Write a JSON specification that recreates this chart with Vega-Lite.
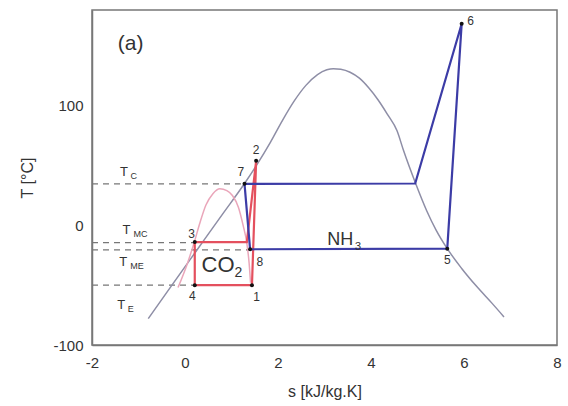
{
  "$schema": "https://vega.github.io/schema/vega-lite/v6.json",
  "width": 465,
  "height": 335,
  "autosize": {"type": "none"},
  "padding": {"left": 92, "top": 10, "right": 11, "bottom": 61},
  "background": "white",
  "config": {
    "view": {"stroke": "#777", "strokeWidth": 1.5},
    "font": "Liberation Sans",
    "axis": {"grid": false, "labelFont": "Liberation Sans", "titleFont": "Liberation Sans", "labelColor": "#333", "titleColor": "#333", "domainColor": "#777", "domainWidth": 1.5, "labelFlush": false, "labelOverlap": false}
  },
  "datasets": {
    "nh3dome": [
      {"s": -0.79, "T": -78}, {"s": -0.3, "T": -51}, {"s": 0.25, "T": -21}, {"s": 0.8, "T": 9},
      {"s": 1.28, "T": 35}, {"s": 1.55, "T": 51}, {"s": 1.83, "T": 69}, {"s": 2.1, "T": 88},
      {"s": 2.35, "T": 104}, {"s": 2.6, "T": 117}, {"s": 2.85, "T": 126}, {"s": 3.05, "T": 130},
      {"s": 3.19, "T": 131}, {"s": 3.35, "T": 130.5}, {"s": 3.55, "T": 128}, {"s": 3.75, "T": 123},
      {"s": 3.95, "T": 115}, {"s": 4.15, "T": 105}, {"s": 4.35, "T": 93}, {"s": 4.56, "T": 79},
      {"s": 4.7, "T": 62.5}, {"s": 4.95, "T": 36}, {"s": 5.2, "T": 12}, {"s": 5.4, "T": -4},
      {"s": 5.64, "T": -19.5}, {"s": 5.95, "T": -36}, {"s": 6.28, "T": -51.4}, {"s": 6.6, "T": -65},
      {"s": 6.86, "T": -76.5}
    ],
    "co2dome": [
      {"s": -0.15, "T": -52}, {"s": 0.05, "T": -32}, {"s": 0.2, "T": -14}, {"s": 0.32, "T": 2},
      {"s": 0.45, "T": 17}, {"s": 0.6, "T": 26.5}, {"s": 0.75, "T": 30.6}, {"s": 0.9, "T": 29},
      {"s": 1.02, "T": 25}, {"s": 1.15, "T": 15}, {"s": 1.25, "T": 0}, {"s": 1.33, "T": -15},
      {"s": 1.38, "T": -32}, {"s": 1.41, "T": -48}
    ],
    "nh3cycle": [
      {"o": 1, "s": 1.28, "T": 34.7}, {"o": 2, "s": 4.95, "T": 35}, {"o": 3, "s": 5.95, "T": 168.5},
      {"o": 4, "s": 5.64, "T": -19.5}, {"o": 5, "s": 1.4, "T": -20}, {"o": 6, "s": 1.28, "T": 34.7}
    ],
    "co2cycle": [
      {"o": 1, "s": 1.44, "T": -50}, {"o": 2, "s": 1.53, "T": 54}, {"o": 3, "s": 1.33, "T": -14},
      {"o": 4, "s": 0.21, "T": -14}, {"o": 5, "s": 0.21, "T": -50}, {"o": 6, "s": 1.44, "T": -50}
    ],
    "dashes": [
      {"g": "TC", "s": -2, "T": 34.7}, {"g": "TC", "s": 1.28, "T": 34.7},
      {"g": "TMC", "s": -2, "T": -14.5}, {"g": "TMC", "s": 0.21, "T": -14.5},
      {"g": "TME", "s": -2, "T": -20.5}, {"g": "TME", "s": 1.4, "T": -20.5},
      {"g": "TE", "s": -2, "T": -50}, {"g": "TE", "s": 0.21, "T": -50}
    ],
    "xticks": [
      {"v": 0, "k": "major"}, {"v": 2, "k": "major"}, {"v": 4, "k": "major"}, {"v": 6, "k": "major"},
      {"v": -1, "k": "minor"}, {"v": 1, "k": "minor"}, {"v": 3, "k": "minor"}, {"v": 5, "k": "minor"}, {"v": 7, "k": "minor"}
    ],
    "yticks": [
      {"v": 0, "k": "major"}, {"v": 100, "k": "major"},
      {"v": -50, "k": "minor"}, {"v": 50, "k": "minor"}, {"v": 150, "k": "minor"}
    ],
    "points": [
      {"n": "1", "s": 1.44, "T": -50}, {"n": "2", "s": 1.53, "T": 54}, {"n": "3", "s": 0.21, "T": -14},
      {"n": "4", "s": 0.21, "T": -50}, {"n": "5", "s": 5.64, "T": -19.5}, {"n": "6", "s": 5.95, "T": 168.5},
      {"n": "7", "s": 1.28, "T": 34.7}, {"n": "8", "s": 1.4, "T": -20}
    ],
    "labels": [
      {"kind": "num", "text": "1", "s": 1.54, "T": -60},
      {"kind": "num", "text": "2", "s": 1.53, "T": 63},
      {"kind": "num", "text": "3", "s": 0.14, "T": -7.5},
      {"kind": "num", "text": "4", "s": 0.16, "T": -59},
      {"kind": "num", "text": "5", "s": 5.64, "T": -29},
      {"kind": "num", "text": "6", "s": 6.14, "T": 171},
      {"kind": "num", "text": "7", "s": 1.2, "T": 44.4},
      {"kind": "num", "text": "8", "s": 1.61, "T": -30.6},
      {"kind": "T", "text": "T", "s": -1.31, "T": 44.4},
      {"kind": "T", "text": "T", "s": -1.26, "T": -4},
      {"kind": "T", "text": "T", "s": -1.33, "T": -30.6},
      {"kind": "T", "text": "T", "s": -1.37, "T": -66.7},
      {"kind": "Tsub", "text": "C", "s": -1.17, "T": 41.5},
      {"kind": "Tsub", "text": "MC", "s": -1.11, "T": -7.3},
      {"kind": "Tsub", "text": "ME", "s": -1.18, "T": -34},
      {"kind": "Tsub", "text": "E", "s": -1.23, "T": -69.5},
      {"kind": "big", "text": "CO", "s": 0.71, "T": -33},
      {"kind": "bigsub", "text": "2", "s": 1.15, "T": -40},
      {"kind": "nh", "text": "NH", "s": 3.34, "T": -12.5},
      {"kind": "nhsub", "text": "3", "s": 3.72, "T": -18},
      {"kind": "panel", "text": "(a)", "s": -1.17, "T": 151.7}
    ]
  },
  "encoding": {
    "x": {"field": "s", "type": "quantitative", "scale": {"domain": [-2, 8], "nice": false},
      "axis": {"orient": "bottom", "values": [-2, 0, 2, 4, 6, 8], "ticks": false, "labelPadding": 10, "labelFontSize": 15, "labelExpr": "replace(datum.label, '−', '-')", "title": "s [kJ/kg.K]", "titleFontSize": 16, "titleFontWeight": "normal", "titleY": 46, "titleBaseline": "middle", "zindex": 1}},
    "y": {"field": "T", "type": "quantitative", "scale": {"domain": [-100, 180], "nice": false, "zero": false},
      "axis": {"orient": "left", "values": [-100, 0, 100], "ticks": false, "labelPadding": 9, "labelFontSize": 15, "labelExpr": "replace(datum.label, '−', '-')", "title": "T [°C]", "titleFontSize": 16, "titleFontWeight": "normal", "titleX": -65, "titleBaseline": "middle", "zindex": 1}}
  },
  "layer": [
    {
      "data": {"name": "xticks"},
      "transform": [{"filter": "datum.k === 'major'"}],
      "mark": {"type": "tick", "orient": "vertical", "color": "#555", "thickness": 1.6, "size": 11, "yOffset": -5.5, "opacity": 1},
      "encoding": {"x": {"field": "v", "type": "quantitative"}, "y": {"datum": -100}}
    },
    {
      "data": {"name": "xticks"},
      "transform": [{"filter": "datum.k === 'minor'"}],
      "mark": {"type": "tick", "orient": "vertical", "color": "#555", "thickness": 1.6, "size": 6, "yOffset": -3, "opacity": 1},
      "encoding": {"x": {"field": "v", "type": "quantitative"}, "y": {"datum": -100}}
    },
    {
      "data": {"name": "yticks"},
      "transform": [{"filter": "datum.k === 'major'"}],
      "mark": {"type": "tick", "orient": "horizontal", "color": "#555", "thickness": 1.6, "size": 14, "xOffset": 7, "opacity": 1},
      "encoding": {"y": {"field": "v", "type": "quantitative"}, "x": {"datum": -2}}
    },
    {
      "data": {"name": "yticks"},
      "transform": [{"filter": "datum.k === 'minor'"}],
      "mark": {"type": "tick", "orient": "horizontal", "color": "#555", "thickness": 1.6, "size": 7, "xOffset": 3.5, "opacity": 1},
      "encoding": {"y": {"field": "v", "type": "quantitative"}, "x": {"datum": -2}}
    },
    {
      "data": {"name": "dashes"},
      "mark": {"type": "line", "color": "#777", "strokeWidth": 1.3, "strokeDash": [6, 5]},
      "encoding": {"detail": {"field": "g"}}
    },
    {
      "data": {"name": "nh3dome"},
      "mark": {"type": "line", "interpolate": "monotone", "color": "#8e8ea6", "strokeWidth": 1.5}
    },
    {
      "data": {"name": "co2dome"},
      "mark": {"type": "line", "interpolate": "monotone", "color": "#eaa6ba", "strokeWidth": 1.5}
    },
    {
      "data": {"name": "co2cycle"},
      "mark": {"type": "line", "color": "#e4505e", "strokeWidth": 2.2},
      "encoding": {"order": {"field": "o"}}
    },
    {
      "data": {"name": "nh3cycle"},
      "mark": {"type": "line", "color": "#3c3ca6", "strokeWidth": 2.2},
      "encoding": {"order": {"field": "o"}}
    },
    {
      "data": {"name": "points"},
      "mark": {"type": "circle", "color": "#111", "size": 16, "opacity": 1}
    },
    {
      "data": {"name": "labels"},
      "transform": [{"filter": "datum.kind === 'num'"}],
      "mark": {"type": "text", "fontSize": 12, "color": "#333", "align": "center", "baseline": "middle"},
      "encoding": {"text": {"field": "text"}}
    },
    {
      "data": {"name": "labels"},
      "transform": [{"filter": "datum.kind === 'T'"}],
      "mark": {"type": "text", "fontSize": 13, "color": "#333", "align": "center", "baseline": "middle"},
      "encoding": {"text": {"field": "text"}}
    },
    {
      "data": {"name": "labels"},
      "transform": [{"filter": "datum.kind === 'Tsub'"}],
      "mark": {"type": "text", "fontSize": 9, "color": "#333", "align": "left", "baseline": "middle"},
      "encoding": {"text": {"field": "text"}}
    },
    {
      "data": {"name": "labels"},
      "transform": [{"filter": "datum.kind === 'big'"}],
      "mark": {"type": "text", "fontSize": 22, "color": "#333", "align": "center", "baseline": "middle"},
      "encoding": {"text": {"field": "text"}}
    },
    {
      "data": {"name": "labels"},
      "transform": [{"filter": "datum.kind === 'bigsub'"}],
      "mark": {"type": "text", "fontSize": 14, "color": "#333", "align": "center", "baseline": "middle"},
      "encoding": {"text": {"field": "text"}}
    },
    {
      "data": {"name": "labels"},
      "transform": [{"filter": "datum.kind === 'nh'"}],
      "mark": {"type": "text", "fontSize": 18, "color": "#333", "align": "center", "baseline": "middle"},
      "encoding": {"text": {"field": "text"}}
    },
    {
      "data": {"name": "labels"},
      "transform": [{"filter": "datum.kind === 'nhsub'"}],
      "mark": {"type": "text", "fontSize": 11, "color": "#333", "align": "center", "baseline": "middle"},
      "encoding": {"text": {"field": "text"}}
    },
    {
      "data": {"name": "labels"},
      "transform": [{"filter": "datum.kind === 'panel'"}],
      "mark": {"type": "text", "fontSize": 21, "color": "#333", "align": "center", "baseline": "middle"},
      "encoding": {"text": {"field": "text"}}
    }
  ]
}
